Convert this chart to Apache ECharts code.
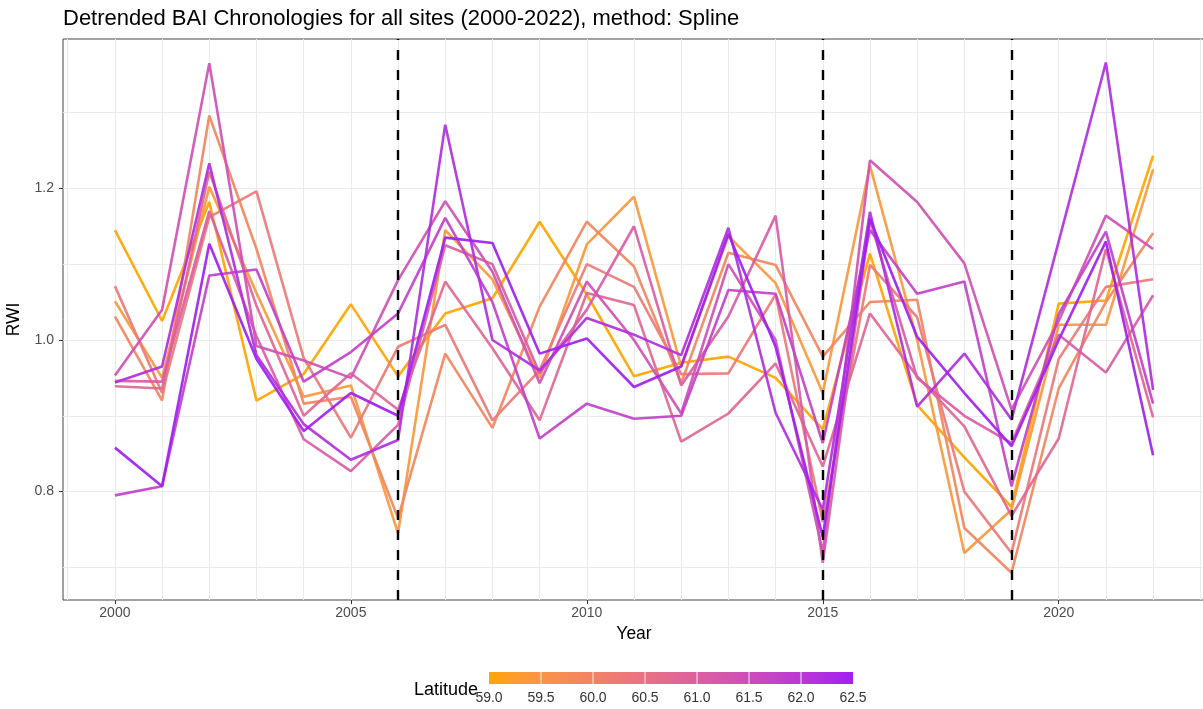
<!DOCTYPE html>
<html>
<head>
<meta charset="utf-8">
<script src="https://cdn.jsdelivr.net/npm/echarts@6/dist/echarts.min.js"></script>
<style>
html,body{margin:0;padding:0;background:#fff;}
#chart{width:1203px;height:709px;}
</style>
</head>
<body>
<div id="chart"></div>
<script>
// ---------------- data ----------------
const years = [2000,2001,2002,2003,2004,2005,2006,2007,2008,2009,2010,2011,2012,2013,2014,2015,2016,2017,2018,2019,2020,2021,2022];
const siteLatitudes = [59.0, 59.4, 59.9, 60.3, 60.8, 61.1, 61.4, 61.8, 62.2, 62.5];
const site01 = [1.145,1.025,1.182,0.920,0.955,1.047,0.952,1.035,1.055,1.156,1.060,0.952,0.970,0.978,0.950,0.882,1.114,0.914,0.845,0.780,1.048,1.052,1.243];
const site02 = [1.051,0.950,1.202,1.062,0.925,0.940,0.745,1.145,1.080,0.950,1.126,1.189,0.965,1.137,1.075,0.930,1.230,1.000,0.719,0.776,1.020,1.020,1.225];
const site03 = [1.031,0.920,1.296,1.120,0.916,0.925,0.765,0.982,0.884,1.044,1.156,1.097,0.943,1.115,1.099,0.978,1.050,1.053,0.752,0.693,0.936,1.050,1.141];
const site04 = [1.071,0.930,1.162,1.196,0.976,0.871,0.991,1.020,0.894,0.960,1.100,1.070,0.955,0.956,1.060,0.760,1.099,1.030,0.800,0.719,0.975,1.070,1.080];
const site05 = [0.939,0.936,1.222,1.045,0.900,0.956,0.908,1.077,0.989,0.894,1.062,1.046,0.866,0.903,0.969,0.833,1.035,0.952,0.886,0.768,0.870,1.120,0.898];
const site06 = [0.946,0.945,1.170,1.005,0.869,0.827,0.888,1.125,1.100,0.956,1.040,1.150,0.940,1.031,1.164,0.706,1.158,0.950,0.900,0.864,1.007,0.957,1.059];
const site07 = [0.953,1.040,1.365,0.992,0.973,0.950,1.079,1.183,1.090,0.943,1.077,1.000,0.903,1.100,1.000,0.720,1.237,1.182,1.101,0.908,1.025,1.164,1.120];
const site08 = [0.795,0.807,1.085,1.093,0.945,0.984,1.035,1.161,1.050,0.870,0.916,0.896,0.900,1.066,1.061,0.864,1.145,1.061,1.077,0.807,1.034,1.143,0.916];
const site09 = [0.944,0.965,1.233,0.980,0.889,0.842,0.868,1.284,1.000,0.960,1.029,1.007,0.980,1.148,0.904,0.776,1.169,0.912,0.982,0.895,1.130,1.366,0.934];
const site10 = [0.858,0.807,1.127,0.975,0.880,0.930,0.900,1.135,1.128,0.982,1.002,0.938,0.965,1.140,0.991,0.740,1.160,1.004,0.930,0.860,1.000,1.130,0.848];
const siteSeries = [site01,site02,site03,site04,site05,site06,site07,site08,site09,site10];
const eventYears = [2006, 2015, 2019];
const xTickLabels = [2000, 2005, 2010, 2015, 2020];
const xGridYears = [1999,2000,2001,2002,2003,2004,2005,2006,2007,2008,2009,2010,2011,2012,2013,2014,2015,2016,2017,2018,2019,2020,2021,2022,2023];
const yTickLabels = [0.8, 1.0, 1.2];
const yGridValues = [0.7, 0.8, 0.9, 1.0, 1.1, 1.2, 1.3];
const legendTicks = [59.0, 59.5, 60.0, 60.5, 61.0, 61.5, 62.0, 62.5];
const latRange = [59.0, 62.5];

// ---------------- colour scale (CIELAB interpolation, like ggplot) ----------------
const LOW = '#FFA500', HIGH = '#A020F0';
function hexToRgb(h){return [1,3,5].map(i=>parseInt(h.substr(i,2),16));}
function toLin(c){c/=255;return c<=0.04045?c/12.92:Math.pow((c+0.055)/1.055,2.4);}
function fromLin(c){const v=c<=0.0031308?12.92*c:1.055*Math.pow(c,1/2.4)-0.055;return Math.max(0,Math.min(255,Math.round(v*255)));}
const WX=0.95047,WY=1,WZ=1.08883;
function f(t){return t>0.008856?Math.cbrt(t):7.787*t+16/116;}
function fi(t){return t*t*t>0.008856?t*t*t:(t-16/116)/7.787;}
function rgbToLab(rgb){const [r,g,b]=rgb.map(toLin);
  const X=(0.4124*r+0.3576*g+0.1805*b)/WX, Y=(0.2126*r+0.7152*g+0.0722*b)/WY, Z=(0.0193*r+0.1192*g+0.9505*b)/WZ;
  const fx=f(X),fy=f(Y),fz=f(Z);return [116*fy-16,500*(fx-fy),200*(fy-fz)];}
function labToRgb(lab){const fy=(lab[0]+16)/116,fx=fy+lab[1]/500,fz=fy-lab[2]/200;
  const X=fi(fx)*WX,Y=fi(fy)*WY,Z=fi(fz)*WZ;
  const r=3.2406*X-1.5372*Y-0.4986*Z,g=-0.9689*X+1.8758*Y+0.0415*Z,b=0.0557*X-0.2040*Y+1.0570*Z;
  return [fromLin(r),fromLin(g),fromLin(b)];}
const labLow=rgbToLab(hexToRgb(LOW)), labHigh=rgbToLab(hexToRgb(HIGH));
function latColor(lat){const t=(lat-latRange[0])/(latRange[1]-latRange[0]);
  const lab=labLow.map((v,i)=>v+(labHigh[i]-v)*t);const c=labToRgb(lab);return 'rgb('+c.join(',')+')';}

// ---------------- layout ----------------
const G = {left:63, top:39, right:-2, bottom:109};
const BAR = {x:489, y:672, w:364, h:12};
const FONT = '"Liberation Sans", Arial, sans-serif';

const series = siteSeries.map((vals, i) => ({
  type:'line', xAxisIndex:0, yAxisIndex:0,
  data: years.map((y,k)=>[y, vals[k]]),
  showSymbol:false, silent:true, z:2,
  lineStyle:{color:latColor(siteLatitudes[i]), width:2.6, opacity:0.92},
  itemStyle:{color:latColor(siteLatitudes[i])},
  emphasis:{disabled:true}
}));
series.push({
  type:'line', xAxisIndex:0, yAxisIndex:0, data:[], z:10, silent:true,
  markLine:{silent:true, symbol:['none','none'], animation:false,
    label:{show:false},
    lineStyle:{color:'#000', width:2.4, type:[10,10], opacity:1},
    data: eventYears.map(y=>({xAxis:y}))}
});

const stops = [];
for (let i=0;i<=20;i++){const v=latRange[0]+(latRange[1]-latRange[0])*i/20; stops.push({offset:i/20, color:latColor(v)});}
const graphics = [
  {type:'rect', shape:{x:BAR.x, y:BAR.y, width:BAR.w, height:BAR.h}, style:{fill:{type:'linear',x:0,y:0,x2:1,y2:0,colorStops:stops}}, silent:true},
  {type:'text', x:414, y:690, style:{text:'Latitude', font:'18px "Liberation Sans", Arial, sans-serif', fill:'#000', align:'left', verticalAlign:'middle'}}
];
legendTicks.forEach(v=>{
  const x = BAR.x + (v-latRange[0])/(latRange[1]-latRange[0])*BAR.w;
  if (v>latRange[0] && v<latRange[1]) graphics.push({type:'line', shape:{x1:x,y1:BAR.y,x2:x,y2:BAR.y+BAR.h}, style:{stroke:'rgba(255,255,255,0.85)', lineWidth:1}, silent:true});
  graphics.push({type:'text', x:x, y:698, style:{text:v.toFixed(1), font:'14px "Liberation Sans", Arial, sans-serif', fill:'#333', align:'center', verticalAlign:'middle'}});
});

const option = {
  animation:false,
  backgroundColor:'#fff',
  title:{text:'Detrended BAI Chronologies for all sites (2000-2022), method: Spline', left:58, top:3,
    textStyle:{fontSize:22, fontWeight:'normal', color:'#000', fontFamily:FONT}},
  grid:{left:G.left, top:G.top, right:G.right, bottom:G.bottom, outerBoundsMode:'none', containLabel:false,
    show:true, borderColor:'#444', borderWidth:1, backgroundColor:'transparent'},
  xAxis:[
    {type:'value', min:1998.9, max:2023.1, position:'bottom',
      axisLine:{show:false}, axisLabel:{show:false},
      axisTick:{show:false, customValues:xGridYears},
      splitLine:{show:true, lineStyle:{color:'#EBEBEB', width:1}}},
    {type:'value', min:1998.9, max:2023.1, position:'bottom',
      axisLine:{show:false},
      axisTick:{show:true, length:4, customValues:xTickLabels, lineStyle:{color:'#333', width:1}},
      axisLabel:{show:true, customValues:xTickLabels, margin:6, fontSize:14, color:'#4D4D4D', fontFamily:FONT,
        formatter:v=>String(Math.round(v))},
      splitLine:{show:false},
      name:'Year', nameLocation:'middle', nameGap:25, nameTextStyle:{fontSize:17.5, color:'#000', fontFamily:FONT}}
  ],
  yAxis:[
    {type:'value', min:0.657, max:1.397, position:'left',
      axisLine:{show:false}, axisLabel:{show:false},
      axisTick:{show:false, customValues:yGridValues},
      splitLine:{show:true, lineStyle:{color:'#EBEBEB', width:1}}},
    {type:'value', min:0.657, max:1.397, position:'left',
      axisLine:{show:false},
      axisTick:{show:true, length:4, customValues:yTickLabels, lineStyle:{color:'#333', width:1}},
      axisLabel:{show:true, customValues:yTickLabels, margin:9, fontSize:14, color:'#4D4D4D', fontFamily:FONT,
        formatter:v=>Number(v).toFixed(1)},
      splitLine:{show:false},
      name:'RWI', nameLocation:'middle', nameGap:32, nameRotate:90, nameTextStyle:{fontSize:17.5, color:'#000', fontFamily:FONT}}
  ],
  series:series,
  graphic:graphics
};
const chart = echarts.init(document.getElementById('chart'), null, {renderer:'canvas'});
chart.setOption(option);
</script>
</body>
</html>
